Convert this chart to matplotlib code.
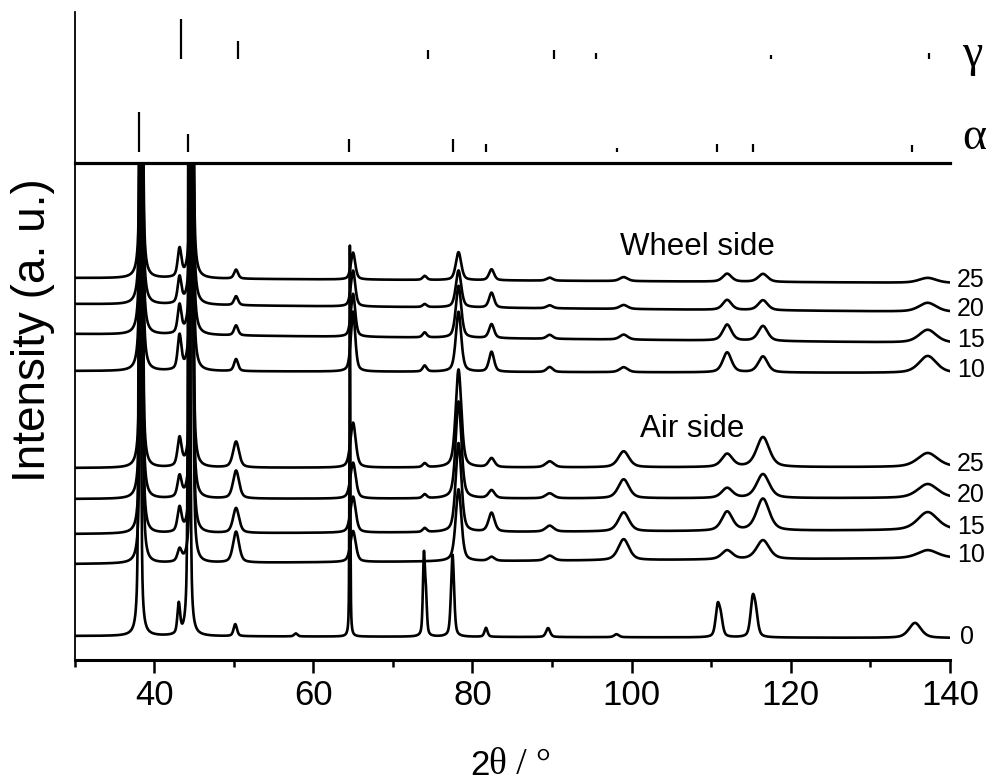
import numpy as np
import matplotlib
matplotlib.use("Agg")
import matplotlib.pyplot as plt
from matplotlib.ticker import MultipleLocator

plt.rcParams['font.family'] = ['Liberation Sans', 'DejaVu Sans']

# reference stick patterns (top panel), heights in panel units
gamma_pos = [43.4, 50.6, 74.4, 90.3, 95.5, 117.5, 137.4]
gamma_int = [40, 18, 9, 9, 6, 4, 6]
alpha_pos = [38.1, 44.3, 64.5, 77.6, 81.7, 98.1, 110.7, 115.2, 135.2]
alpha_int = [40, 18, 13, 13, 8, 4, 8, 8, 7]

# processed ribbons: common reflections
peak_pos = [38.4, 43.2, 44.75, 50.3, 65.0, 74.0, 78.25, 82.4, 89.7, 99.0, 112.0, 116.5, 137.2]
wheel_fwhm = [0.30, 0.55, 0.30, 0.60, 0.65, 0.6, 0.80, 0.75, 0.9, 1.2, 1.3, 1.4, 2.6]
air_fwhm = [0.30, 0.60, 0.30, 0.90, 0.80, 0.6, 0.85, 0.90, 1.2, 1.6, 1.6, 1.9, 3.0]

wheel_25 = [700, 28, 700, 9, 27, 4, 28, 11, 3, 4, 8, 8, 5]
wheel_20 = [700, 26, 700, 9, 36, 3, 37, 15, 3, 4, 10, 10, 9]
wheel_15 = [700, 28, 700, 10, 43, 5, 52, 14, 4, 5, 16, 15, 13]
wheel_10 = [700, 34, 700, 12, 60, 6, 60, 20, 5, 5, 20, 16, 17]
air_25 = [700, 28, 700, 26, 45, 4, 98, 9, 6, 16, 13, 30, 14]
air_20 = [700, 21, 700, 28, 36, 4, 97, 8, 5, 19, 10, 24, 14]
air_15 = [700, 24, 700, 25, 36, 4, 89, 19, 6, 19, 19, 32, 18]
air_10 = [700, 12, 700, 31, 31, 0, 72, 4, 5, 21, 9, 19, 8]

# baselines (left end, right end) and labels
wheel_base = [(382, 377), (356, 348), (326, 317), (289, 287)]
air_base = [(192, 193), (161, 162), (126, 130), (96, 102)]
speed_labels = ['25', '20', '15', '10']

# as-cast / reference sample "0"
zero_pos = [38.2, 43.1, 44.4, 50.2, 57.8, 64.6, 73.9, 74.15, 77.5, 81.7, 89.5, 98.1, 110.8, 111.2, 115.2, 115.6, 135.6]
zero_int = [900, 30, 900, 12, 3, 391, 78, 36, 82, 9, 9, 3, 29, 17, 35, 20, 15]
zero_fwhm = [0.25, 0.4, 0.25, 0.5, 0.5, 0.12, 0.3, 0.3, 0.45, 0.45, 0.6, 0.7, 0.6, 0.6, 0.65, 0.65, 1.8]
zero_base = (24, 22)


def pseudo_voigt(x, x0, h, fwhm, eta=0.5):
    u = (x - x0) / (fwhm / 2.0)
    return h * (eta / (1 + u ** 2) + (1 - eta) * np.exp(-np.log(2) * u ** 2))


def pattern(x, positions, heights, widths, base):
    y = np.interp(x, [x[0], x[-1]], base)
    for x0, h, w in zip(positions, heights, widths):
        y = y + pseudo_voigt(x, x0, h, w)
    return y


two_theta = np.linspace(30, 140, 5501)

fig = plt.figure(figsize=(10.01, 7.81), dpi=100)
ax_top = fig.add_axes([74.5 / 1001, (781 - 163) / 781, 875.5 / 1001, 151 / 781])
ax = fig.add_axes([74.5 / 1001, (781 - 660) / 781, 875.5 / 1001, 497 / 781])

# sticks
ax_top.vlines(gamma_pos, 104, 104 + np.array(gamma_int), color='black', lw=1.6)
ax_top.vlines(alpha_pos, 11, 11 + np.array(alpha_int), color='black', lw=1.6)
ax_top.set_xlim(30, 140)
ax_top.set_ylim(0, 151)
ax_top.set_xticks([])
ax_top.set_yticks([])
for s in ['top', 'right', 'bottom']:
    ax_top.spines[s].set_visible(False)
ax_top.spines['left'].set_linewidth(1.3)
ax_top.text(141.5, 97, 'γ', family='Liberation Serif', fontsize=33, ha='left', va='baseline')
ax_top.text(141.5, 14, 'α', family='Liberation Serif', fontsize=33, ha='left', va='baseline')

# patterns
wheel_sets = [wheel_25, wheel_20, wheel_15, wheel_10]
air_sets = [air_25, air_20, air_15, air_10]
for heights, base, lab in zip(wheel_sets, wheel_base, speed_labels):
    ax.plot(two_theta, pattern(two_theta, peak_pos, heights, wheel_fwhm, base), color='black', lw=1.9)
    ax.text(140.9, base[1] + 3, lab, fontsize=18, ha='left', va='center', clip_on=False)
for heights, base, lab in zip(air_sets, air_base, speed_labels):
    ax.plot(two_theta, pattern(two_theta, peak_pos, heights, air_fwhm, base), color='black', lw=1.9)
    ax.text(140.9, base[1] + 3, lab, fontsize=18, ha='left', va='center', clip_on=False)
ax.plot(two_theta, pattern(two_theta, zero_pos, zero_int, zero_fwhm, zero_base), color='black', lw=1.9)
ax.text(141.3, zero_base[1] + 1, '0', fontsize=18, ha='left', va='center', clip_on=False)

ax.text(98.6, 405, 'Wheel side', fontsize=22.5, ha='left', va='baseline')
ax.text(101.1, 223, 'Air side', fontsize=22.5, ha='left', va='baseline')

ax.set_xlim(30, 140)
ax.set_ylim(0, 497)
ax.set_yticks([])
ax.xaxis.set_major_locator(MultipleLocator(20))
ax.xaxis.set_minor_locator(MultipleLocator(10))
ax.tick_params(axis='x', which='major', direction='out', length=9.5, width=1.8, labelsize=25, pad=4)
ax.tick_params(axis='x', which='minor', direction='out', length=5, width=1.8)
ax.spines['right'].set_visible(False)
ax.spines['top'].set_linewidth(2.3)
ax.spines['bottom'].set_linewidth(2.2)
ax.spines['left'].set_linewidth(1.3)

# axis titles
fig.text(33 / 1001, 1 - 330 / 781, 'Intensity (a. u.)', fontsize=33, rotation=90, ha='center', va='center')
t1 = fig.text(470 / 1001, 6 / 781, '2', fontsize=25, ha='left', va='baseline')
fig.texts.append(plt.Annotation('θ / °', xy=(1, 0), xycoords=t1, va='bottom', ha='left',
                                fontsize=27, family='Liberation Serif'))
fig.texts[-1].set_figure(fig)

fig.savefig('out.png', dpi=100)
